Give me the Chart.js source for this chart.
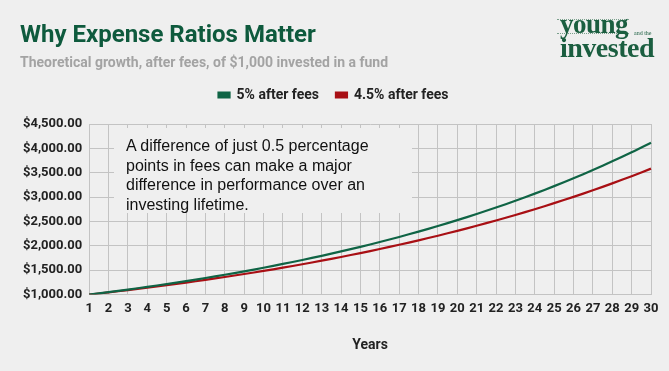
<!DOCTYPE html>
<html><head><meta charset="utf-8">
<script src="https://cdn.jsdelivr.net/npm/chart.js@4.4.1/dist/chart.umd.min.js"></script>
<style>
html,body{margin:0;padding:0;background:#efefef;}
#wrap{position:relative;width:669px;height:371px;background:#efefef;overflow:hidden;}
#c{position:absolute;left:0;top:0;}
.title{position:absolute;left:20px;top:20px;font:bold 24px Roboto,sans-serif;color:#0e5a3d;white-space:nowrap;line-height:28px;}
.sub{position:absolute;left:20px;top:54px;font:bold 14px Roboto,sans-serif;color:#a3a3a3;white-space:nowrap;}
.note{position:absolute;left:114px;top:128px;width:298px;height:85px;background:#efefef;}
.note div{position:absolute;left:12px;top:8px;font:16px "Liberation Sans",Arial,sans-serif;color:#111;line-height:19.5px;white-space:nowrap;}
.logo{position:absolute;left:552px;top:10px;width:110px;height:52px;color:#1b5e40;font-family:"Liberation Serif","DejaVu Serif",serif;}
.logo .y{position:absolute;left:8px;top:1px;font-weight:bold;font-size:27px;letter-spacing:-0.5px;line-height:26px;}
.logo .a{position:absolute;left:82px;top:20px;font-size:6px;}
.logo .i{position:absolute;left:8px;top:23px;font-weight:bold;font-size:28px;letter-spacing:-0.5px;line-height:30px;}
.logo .l1{position:absolute;left:5px;top:9px;width:72px;border-top:1px dotted #7aa08c;}
.logo .l2{position:absolute;left:5px;top:23px;width:72px;border-top:1px dotted #7aa08c;}
</style></head>
<body><div id="wrap">
<canvas id="c" width="669" height="371"></canvas>
<div class="title">Why Expense Ratios Matter</div>
<div class="sub">Theoretical growth, after fees, of $1,000 invested in a fund</div>
<div class="logo"><div class="l1"></div><div class="l2"></div><div class="y">young</div><div class="a">and the</div><div class="i">invested</div></div>
<div class="note"><div>A difference of just 0.5 percentage<br>points in fees can make a major<br>difference in performance over an<br>investing lifetime.</div></div>
</div>
<script>
const years = ['1','2','3','4','5','6','7','8','9','10','11','12','13','14','15','16','17','18','19','20','21','22','23','24','25','26','27','28','29','30'];
const fivePct = [1000,1050,1102.5,1157.63,1215.51,1276.28,1340.1,1407.1,1477.46,1551.33,1628.89,1710.34,1795.86,1885.65,1979.93,2078.93,2182.87,2292.02,2406.62,2526.95,2653.3,2785.96,2925.26,3071.52,3225.1,3386.35,3555.67,3733.46,3920.13,4116.14];
const fourHalfPct = [1000,1045,1092.03,1141.17,1192.52,1246.18,1302.26,1360.86,1422.1,1486.1,1552.97,1622.85,1695.88,1772.2,1851.94,1935.28,2022.37,2113.38,2208.48,2307.86,2411.71,2520.24,2633.65,2752.17,2876.01,3005.43,3140.68,3282.01,3429.7,3584.04];
const seriesNames = ['5% after fees','4.5% after fees'];
const yTicks = [1000,1500,2000,2500,3000,3500,4000,4500];

const grid = '#c3c3c3';
const legendSpace = {
  id:'legendSpace',
  beforeInit(chart){
    const orig = chart.legend.fit;
    chart.legend.fit = function(){ orig.bind(chart.legend)(); this.height += 12; };
  }
};
new Chart(document.getElementById('c'), {
  type: 'line',
  data: {
    labels: years,
    datasets: [
      {label: seriesNames[0], data: fivePct, borderColor:'#0f6445', backgroundColor:'#0f6445', borderWidth:2.2, pointRadius:0, tension:0.3},
      {label: seriesNames[1], data: fourHalfPct, borderColor:'#a80f14', backgroundColor:'#a80f14', borderWidth:2.2, pointRadius:0, tension:0.3}
    ]
  },
  plugins:[legendSpace],
  options: {
    responsive:false, animation:false,
    layout:{padding:{top:71,left:16,right:18,bottom:13}},
    plugins:{
      legend:{position:'top', labels:{boxWidth:11, boxHeight:5, padding:17, color:'#222', font:{family:'Roboto', weight:'bold', size:14}}},
      tooltip:{enabled:false}
    },
    scales:{
      x:{
        offset:false,
        grid:{color:grid, drawTicks:false},
        border:{color:grid},
        ticks:{color:'#222', padding:6, maxRotation:0, autoSkip:false, font:{family:'Roboto', weight:'bold', size:13}},
        title:{display:true, text:'Years', color:'#222', padding:{top:15}, font:{family:'Roboto', weight:'bold', size:14}}
      },
      y:{
        min:1000, max:4500,
        afterBuildTicks:(ax)=>{ax.ticks = yTicks.map(v=>({value:v}));},
        grid:{color:grid, drawTicks:false},
        border:{color:grid},
        ticks:{color:'#222', padding:7, font:{family:'Roboto', weight:'bold', size:13},
          callback:(v)=>'$'+Number(v).toLocaleString('en-US',{minimumFractionDigits:2,maximumFractionDigits:2})}
      }
    }
  }
});
</script>
</body></html>
